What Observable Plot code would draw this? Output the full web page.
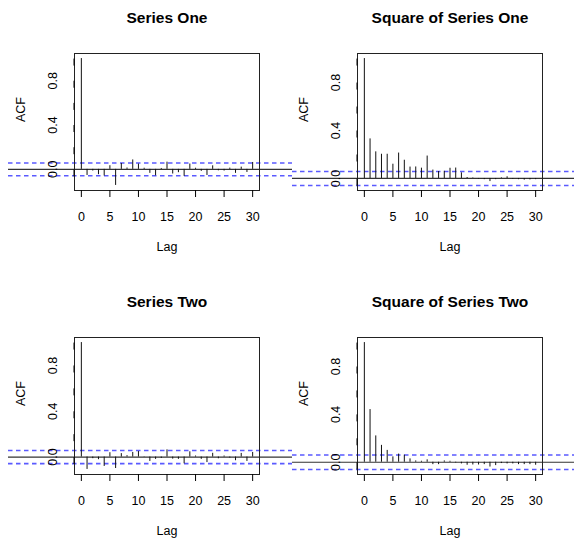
<!DOCTYPE html>
<html><head><meta charset="utf-8">
<script src="https://cdn.jsdelivr.net/npm/d3@7"></script>
<script src="https://cdn.jsdelivr.net/npm/@observablehq/plot@0.6"></script>
<style>
body{margin:0;background:#fff;}
#chart{position:relative;width:574px;height:539px;overflow:hidden;background:#fff;font-family:"Liberation Sans",Arial,Helvetica,sans-serif;}
#chart svg{position:absolute;overflow:visible;background:transparent;}
</style></head><body><div id="chart"></div>
<script>
const lags = [0,1,2,3,4,5,6,7,8,9,10,11,12,13,14,15,16,17,18,19,20,21,22,23,24,25,26,27,28,29,30];
const titles = ["Series One","Square of Series One","Series Two","Square of Series Two"];
const acfSeriesOne = [1, -0.055, -0.015, -0.048, -0.06, 0.033, -0.145, 0.053, 0.012, 0.085, 0.048, 0.01, -0.036, -0.058, 0.008, 0.065, -0.042, -0.03, -0.063, 0.048, 0.01, -0.018, -0.055, 0.032, -0.013, -0.015, 0.011, -0.036, 0.02, -0.028, 0.062];
const acfSquareOne = [1, 0.33, 0.222, 0.202, 0.202, 0.119, 0.212, 0.152, 0.095, 0.096, 0.086, 0.187, 0.07, 0.058, 0.06, 0.085, 0.087, 0.047, 0.008, 0.004, -0.005, -0.01, -0.026, -0.01, 0.005, 0.014, -0.007, -0.01, -0.014, -0.012, -0.01];
const acfSeriesTwo = [1, -0.108, -0.014, -0.023, -0.082, 0.038, -0.1, 0.03, 0.012, 0.04, 0.048, -0.003, -0.038, -0.02, -0.012, 0.063, -0.018, -0.02, -0.059, 0.046, 0.009, -0.02, -0.048, 0.033, -0.015, 0.009, -0.009, -0.032, 0.032, -0.038, 0.04];
const acfSquareTwo = [1, 0.44, 0.22, 0.141, 0.099, 0.045, 0.068, 0.059, 0.028, 0.011, 0.008, 0.02, -0.02, -0.02, 0.011, 0.008, -0.006, -0.014, -0.025, -0.023, -0.023, -0.02, -0.04, -0.028, -0.011, -0.014, -0.014, -0.02, -0.02, -0.02, -0.025];
const confLimits = [0.057, 0.058, 0.057, 0.06];
const xTicks = [0,5,10,15,20,25,30];
const yTicks = [0,0.2,0.4,0.6,0.8,1];
const yLabelTicks = [0,0.4,0.8];
const xLabel = "Lag";
const yLabel = "ACF";

const series = [acfSeriesOne, acfSquareOne, acfSeriesTwo, acfSquareTwo];
const chart = document.getElementById("chart");

function expand(lo, hi) { const p = (hi - lo) * 0.04; return [lo - p, hi + p]; }

function panel(i) {
  const values = series[i];
  const clim = confLimits[i];
  const right = i % 2 === 1;
  const width = right ? 291 : 287;
  const height = 254;
  const ml = 74, mr = width - 259;
  const lineInsetLeft = right ? -65 : -66;
  const lineInsetRight = right ? -32 : -33;
  const data = lags.map((lag, k) => ({lag, acf: values[k]}));
  const yDom = expand(Math.min(d3.min(values), -clim), Math.max(d3.max(values), clim));
  const xDom = expand(d3.min(lags), d3.max(lags));
  const dashed = {stroke: "#5a5aff", strokeWidth: 1.6, strokeDasharray: "4.5,3.5", insetLeft: lineInsetLeft, insetRight: lineInsetRight};
  const svg = Plot.plot({
    width, height,
    marginTop: 53, marginBottom: 64, marginLeft: ml, marginRight: mr,
    style: {background: "transparent", overflow: "visible", fontFamily: '"Liberation Sans", Arial, sans-serif', color: "black"},
    x: {domain: xDom},
    y: {domain: yDom},
    marks: [
      Plot.ruleY([0], {stroke: "#333", strokeWidth: 1.2, insetLeft: lineInsetLeft, insetRight: lineInsetRight}),
      Plot.ruleY([clim], dashed),
      Plot.ruleY([-clim], dashed),
      Plot.ruleX(data, {x: "lag", y1: 0, y2: "acf", stroke: "#111", strokeWidth: 1}),
      Plot.frame({stroke: "#222", strokeWidth: 1}),
      Plot.axisX({ticks: xTicks, tickSize: 7, tickPadding: 15, fontSize: 12.5, label: null, tickFormat: d => String(d)}),
      Plot.axisY({ticks: yTicks, tickSize: 7, tickPadding: 14.5, fontSize: 12.5, label: null, rotate: -90, textAnchor: "middle", lineAnchor: "middle",
        tickFormat: d => yLabelTicks.some(t => Math.abs(t - d) < 1e-9) ? d.toFixed(1) : ""}),
      Plot.text([titles[i]], {frameAnchor: "top", dy: -35.5, fontSize: 15.5, fontWeight: "bold", lineAnchor: "middle"}),
      Plot.text([xLabel], {frameAnchor: "bottom", dy: 56.5, fontSize: 12.5, lineAnchor: "middle"}),
      Plot.text([yLabel], {frameAnchor: "left", dx: -54, fontSize: 12.5, rotate: -90, lineAnchor: "middle"})
    ]
  });
  svg.style.left = (right ? 283 : 0) + "px";
  svg.style.top = (i >= 2 ? 284 : 0) + "px";
  chart.appendChild(svg);
}
for (let i = 0; i < 4; i++) panel(i);
</script>
</body></html>
